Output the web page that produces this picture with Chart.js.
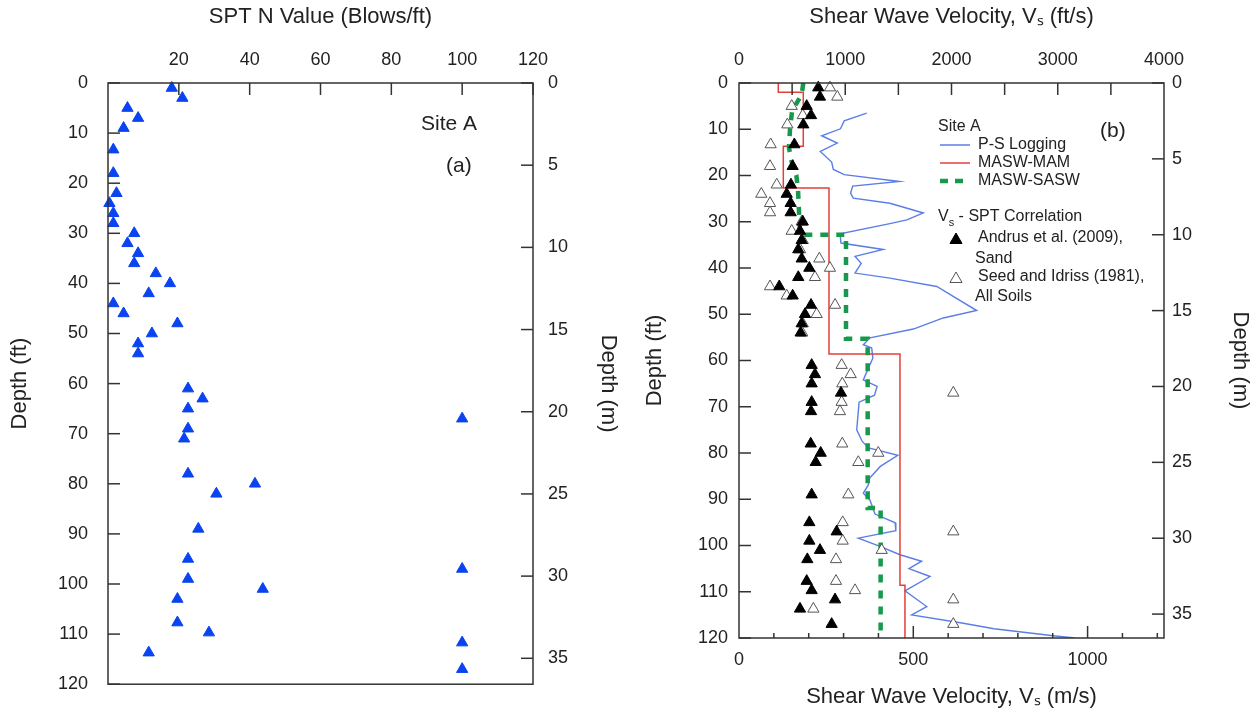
<!DOCTYPE html>
<html>
<head>
<meta charset="utf-8">
<script src="https://cdn.jsdelivr.net/npm/chart.js"></script>
<style>
  body { margin: 0; background: #fff; }
  #wrap { position: relative; width: 1256px; height: 715px; }
  canvas { position: absolute; top: 0; }
</style>
</head>
<body>
<div id="wrap">
  <canvas id="sptChart" width="640" height="715" style="left:0px"></canvas>
  <canvas id="vsChart" width="616" height="715" style="left:640px"></canvas>
</div>
<script>
// SPT samples: depth (ft) and N value (blows/ft)
const sptDepth = [1, 3, 5, 7, 9, 13.3, 18, 22, 24, 26, 28, 30, 32, 34, 36, 38, 40, 42, 44, 46, 48, 50, 52, 54,
  61, 63, 65, 67, 69, 71, 78, 80, 82, 89, 95, 97, 99, 101, 103, 107.7, 109.7, 111.7, 113.7, 117];
const sptN = [18, 21, 5.5, 8.5, 4.4, 1.5, 1.5, 2.4, 0.4, 1.5, 1.5, 7.4, 5.5, 8.5, 7.4, 13.5, 17.5, 11.5, 1.5, 4.4, 19.6, 12.4, 8.5, 8.5,
  22.6, 26.7, 22.6, 100, 22.6, 21.5, 22.6, 41.5, 30.6, 25.5, 22.6, 100, 22.6, 43.7, 19.6, 19.6, 28.5, 100, 11.5, 100];

// Vs from SPT correlations (ft/s), same depths as sptDepth
const andrusVs = [746, 762, 637, 678, 605, 521, 505, 489, 449, 486, 486, 600, 574, 590, 558, 590, 662, 558, 379, 505, 678, 621, 590, 580,
  684, 715, 684, 960, 684, 678, 675, 769, 722, 684, 662, 919, 662, 762, 643, 637, 684, 904, 574, 872];
const seedVs = [856, 925, 496, 600, 455, 298, 292, 355, 210, 292, 292, 590, 496, 600, 575, 756, 856, 715, 292, 449, 904, 731, 600, 595,
  966, 1051, 972, 2017, 966, 950, 972, 1311, 1123, 1029, 976, 2017, 976, 1343, 913, 913, 1092, 2017, 700, 2017];

// P-S suspension logging profile
const psVs = [1202, 990, 955, 778, 925, 765, 872, 888, 990, 1510, 1070, 1050, 1076, 1420, 1735, 1580, 1420, 951, 960, 1358, 1092, 1150, 1092,
  1420, 1861, 2237, 1923, 1641, 1233, 1170, 1249, 1260, 1230, 1170, 1300, 1275, 1130, 1108, 1160, 1220, 1495, 1330, 1230, 1217, 1170,
  1233, 1280, 1470, 1476, 1123, 1327, 1515, 1719, 1600, 1798, 1562, 1767, 1625, 2111, 2400, 2958, 3160];
const psDepth = [6.5, 8.2, 9.9, 11.4, 13, 14.8, 17.1, 18.7, 19.8, 21.3, 22.3, 23.8, 24.9, 26, 28.1, 29.6, 30.4, 32.6, 34.6, 36, 37.5, 39, 41.1,
  42.2, 44, 49.2, 50.8, 53.2, 55.1, 56.6, 57.3, 59.5, 61, 64.2, 65.6, 67.5, 69, 75, 77.5, 78.9, 80.5, 82.9, 85.4, 86.9, 88.7,
  90.2, 93.2, 95.1, 96.8, 98.4, 100.2, 102, 103.4, 105, 106.7, 109.8, 113.2, 115, 116.8, 118, 119.5, 120];

// MASW-MAM layered profile
const mamVs = [370, 370, 605, 605, 417, 417, 847, 847, 1515, 1515, 1562, 1562];
const mamDepth = [0, 2, 2, 13.7, 13.7, 22.7, 22.7, 58.6, 58.6, 108.6, 108.6, 120];

// MASW-SASW profile
const saswVs = [605, 590, 500, 480, 470, 500, 540, 555, 565, 575, 1007, 1007, 1211, 1211, 1333, 1333];
const saswDepth = [0, 2.5, 6, 10, 14, 17.5, 20, 23, 28, 32.8, 32.8, 55.3, 55.3, 91.9, 91.9, 120];

// axis ticks
const nTicks = [20, 40, 60, 80, 100, 120];
const ftTicks = [0, 10, 20, 30, 40, 50, 60, 70, 80, 90, 100, 110, 120];
const mTicks = [0, 5, 10, 15, 20, 25, 30, 35];
const ftsTicks = [0, 1000, 2000, 3000, 4000];
const msTicks = [0, 500, 1000];

const FT_TO_M = 0.3048;
const fam = "'Liberation Sans', Arial, Helvetica, sans-serif";
const txt = '#222';

function pts(xs, ys) {
  return xs.map((x, i) => ({ x: x, y: ys[i] }));
}

function makeAxis(o) {
  return {
    type: 'linear',
    position: o.position,
    min: o.min,
    max: o.max,
    reverse: !!o.reverse,
    grid: { display: false, drawTicks: false },
    border: { display: false },
    ticks: {
      display: o.ticks !== undefined,
      font: { family: fam, size: 18 },
      color: txt,
      padding: o.pad || 0,
      maxRotation: 0,
      autoSkip: false,
      callback: v => String(v)
    },
    title: o.title ? { display: true, text: o.title, font: { family: fam, size: 22 }, color: txt, padding: o.titlePad } : { display: false },
    afterBuildTicks: s => { s.ticks = (o.ticks || []).map(v => ({ value: v })); },
    afterFit: s => { if (s.isHorizontal()) s.height = o.size; else s.width = o.size; }
  };
}

// frame and inward tick marks
function frameTicks(marks) {
  return {
    id: 'frameTicks',
    afterDraw(chart) {
      const ctx = chart.ctx, a = chart.chartArea;
      ctx.save();
      ctx.strokeStyle = '#333';
      ctx.lineWidth = 1.5;
      ctx.strokeRect(a.left, a.top, a.right - a.left, a.bottom - a.top);
      marks.forEach(m => {
        const s = chart.scales[m.scale];
        for (let v = m.from; v <= m.to + 1e-9; v += m.step) {
          const p = s.getPixelForValue(v);
          const len = (m.major && Math.abs(v / m.major - Math.round(v / m.major)) > 1e-6) ? m.minorLen : m.len;
          ctx.beginPath();
          if (m.side === 'top') { ctx.moveTo(p, a.top); ctx.lineTo(p, a.top + len); }
          if (m.side === 'bottom') { ctx.moveTo(p, a.bottom); ctx.lineTo(p, a.bottom - len); }
          if (m.side === 'left') { ctx.moveTo(a.left, p); ctx.lineTo(a.left + len, p); }
          if (m.side === 'right') { ctx.moveTo(a.right, p); ctx.lineTo(a.right - len, p); }
          ctx.stroke();
        }
      });
      ctx.restore();
    }
  };
}

function tri(ctx, x, y, r, fill, stroke) {
  ctx.beginPath();
  ctx.moveTo(x, y - r);
  ctx.lineTo(x + r * 0.866, y + r * 0.5);
  ctx.lineTo(x - r * 0.866, y + r * 0.5);
  ctx.closePath();
  ctx.fillStyle = fill;
  ctx.fill();
  ctx.strokeStyle = stroke;
  ctx.lineWidth = 1;
  ctx.stroke();
}

// panel (a) labels
const sptLabels = {
  id: 'sptLabels',
  afterDraw(chart) {
    const ctx = chart.ctx;
    ctx.save();
    ctx.fillStyle = txt;
    ctx.font = '21px ' + fam;
    ctx.textBaseline = 'middle';
    ctx.fillText('Site A', 421, 124);
    ctx.fillText('(a)', 446, 166);
    ctx.restore();
  }
};

// panel (b) legend
const vsLegend = {
  id: 'vsLegend',
  afterDraw(chart) {
    const ctx = chart.ctx;
    ctx.save();
    ctx.fillStyle = txt;
    ctx.textBaseline = 'middle';
    ctx.font = '21px ' + fam;
    ctx.fillText('(b)', 460, 131);
    ctx.font = '16px ' + fam;
    ctx.fillText('Site A', 298, 127);
    const lines = [
      { y: 145, color: '#5a7ee6', w: 1.5, dash: [], label: 'P-S Logging' },
      { y: 163, color: '#e2403a', w: 1.5, dash: [], label: 'MASW-MAM' },
      { y: 181, color: '#16994a', w: 4.5, dash: [8, 7], label: 'MASW-SASW' }
    ];
    lines.forEach(l => {
      ctx.beginPath();
      ctx.strokeStyle = l.color;
      ctx.lineWidth = l.w;
      ctx.setLineDash(l.dash);
      ctx.moveTo(300, l.y);
      ctx.lineTo(330, l.y);
      ctx.stroke();
      ctx.setLineDash([]);
      ctx.fillStyle = txt;
      ctx.fillText(l.label, 338, l.y);
    });
    ctx.fillText('V', 298, 217);
    const vw = ctx.measureText('V').width;
    ctx.font = '11px ' + fam;
    ctx.fillText('s', 298 + vw, 223);
    const sw = ctx.measureText('s').width;
    ctx.font = '16px ' + fam;
    ctx.fillText(' - SPT Correlation', 298 + vw + sw, 217);
    tri(ctx, 316, 240, 7, '#000', '#000');
    ctx.fillStyle = txt;
    ctx.fillText('Andrus et al. (2009),', 338, 238);
    ctx.fillText('Sand', 335, 259);
    tri(ctx, 316, 279, 7, '#fff', '#555');
    ctx.fillStyle = txt;
    ctx.fillText('Seed and Idriss (1981),', 338, 277);
    ctx.fillText('All Soils', 335, 297);
    ctx.restore();
  }
};

new Chart(document.getElementById('sptChart'), {
  type: 'scatter',
  data: {
    datasets: [{
      data: pts(sptN, sptDepth),
      pointStyle: 'triangle',
      pointRadius: 6.5,
      backgroundColor: '#0a43f0',
      borderColor: '#0a43f0',
      borderWidth: 1,
      clip: false
    }]
  },
  options: {
    responsive: false,
    animation: false,
    events: [],
    layout: { padding: 0 },
    plugins: { legend: { display: false }, tooltip: { enabled: false } },
    scales: {
      x: makeAxis({ position: 'top', min: 0, max: 120, ticks: nTicks, pad: 12, title: 'SPT N Value (Blows/ft)', titlePad: 4, size: 83 }),
      xB: makeAxis({ position: 'bottom', min: 0, max: 120, size: 30 }),
      y: makeAxis({ position: 'left', min: 0, max: 120, reverse: true, ticks: ftTicks, pad: 20, title: 'Depth (ft)', titlePad: 7, size: 108 }),
      yM: makeAxis({ position: 'right', min: 0, max: 120 * FT_TO_M, reverse: true, ticks: mTicks, pad: 15, title: 'Depth (m)', titlePad: 19, size: 107 })
    }
  },
  plugins: [frameTicks([
    { scale: 'x', side: 'top', from: 20, to: 120, step: 20, len: 12 },
    { scale: 'y', side: 'left', from: 0, to: 120, step: 10, len: 12 },
    { scale: 'yM', side: 'right', from: 0, to: 35, step: 5, len: 12 }
  ]), sptLabels]
});

new Chart(document.getElementById('vsChart'), {
  type: 'scatter',
  data: {
    datasets: [
      {
        label: 'Andrus et al. (2009), Sand',
        data: pts(andrusVs, sptDepth),
        pointStyle: 'triangle', pointRadius: 6.5,
        backgroundColor: '#000', borderColor: '#000', borderWidth: 1,
        clip: false
      },
      {
        label: 'Seed and Idriss (1981), All Soils',
        data: pts(seedVs, sptDepth),
        pointStyle: 'triangle', pointRadius: 6.5,
        backgroundColor: '#fff', borderColor: '#555', borderWidth: 1,
        clip: false
      },
      {
        label: 'MASW-SASW',
        data: pts(saswVs, saswDepth),
        showLine: true, pointRadius: 0,
        borderColor: '#16994a', borderWidth: 4.5, borderDash: [8, 8],
        fill: false
      },
      {
        label: 'MASW-MAM',
        data: pts(mamVs, mamDepth),
        showLine: true, pointRadius: 0,
        borderColor: '#e2403a', borderWidth: 1.5,
        fill: false
      },
      {
        label: 'P-S Logging',
        data: pts(psVs, psDepth),
        showLine: true, pointRadius: 0,
        borderColor: '#5a7ee6', borderWidth: 1.4,
        fill: false
      }
    ]
  },
  options: {
    responsive: false,
    animation: false,
    events: [],
    layout: { padding: 0 },
    plugins: { legend: { display: false }, tooltip: { enabled: false } },
    scales: {
      x: makeAxis({ position: 'top', min: 0, max: 4000, ticks: ftsTicks, pad: 12, title: 'Shear Wave Velocity, V\u209B (ft/s)', titlePad: 4, size: 83 }),
      xM: makeAxis({ position: 'bottom', min: 0, max: 4000 * FT_TO_M, ticks: msTicks, pad: 11, title: 'Shear Wave Velocity, V\u209B (m/s)', titlePad: 5, size: 77 }),
      y: makeAxis({ position: 'left', min: 0, max: 120, reverse: true, ticks: ftTicks, pad: 11, title: 'Depth (ft)', titlePad: 2, size: 99 }),
      yM: makeAxis({ position: 'right', min: 0, max: 120 * FT_TO_M, reverse: true, ticks: mTicks, pad: 8, title: 'Depth (m)', titlePad: 3, size: 92 })
    }
  },
  plugins: [frameTicks([
    { scale: 'x', side: 'top', from: 500, to: 3500, step: 500, len: 12, major: 1000, minorLen: 12 },
    { scale: 'xM', side: 'bottom', from: 100, to: 1200, step: 100, len: 12, major: 500, minorLen: 5 },
    { scale: 'y', side: 'left', from: 0, to: 120, step: 10, len: 12 },
    { scale: 'yM', side: 'right', from: 0, to: 35, step: 5, len: 12 }
  ]), vsLegend]
});
</script>
</body>
</html>
